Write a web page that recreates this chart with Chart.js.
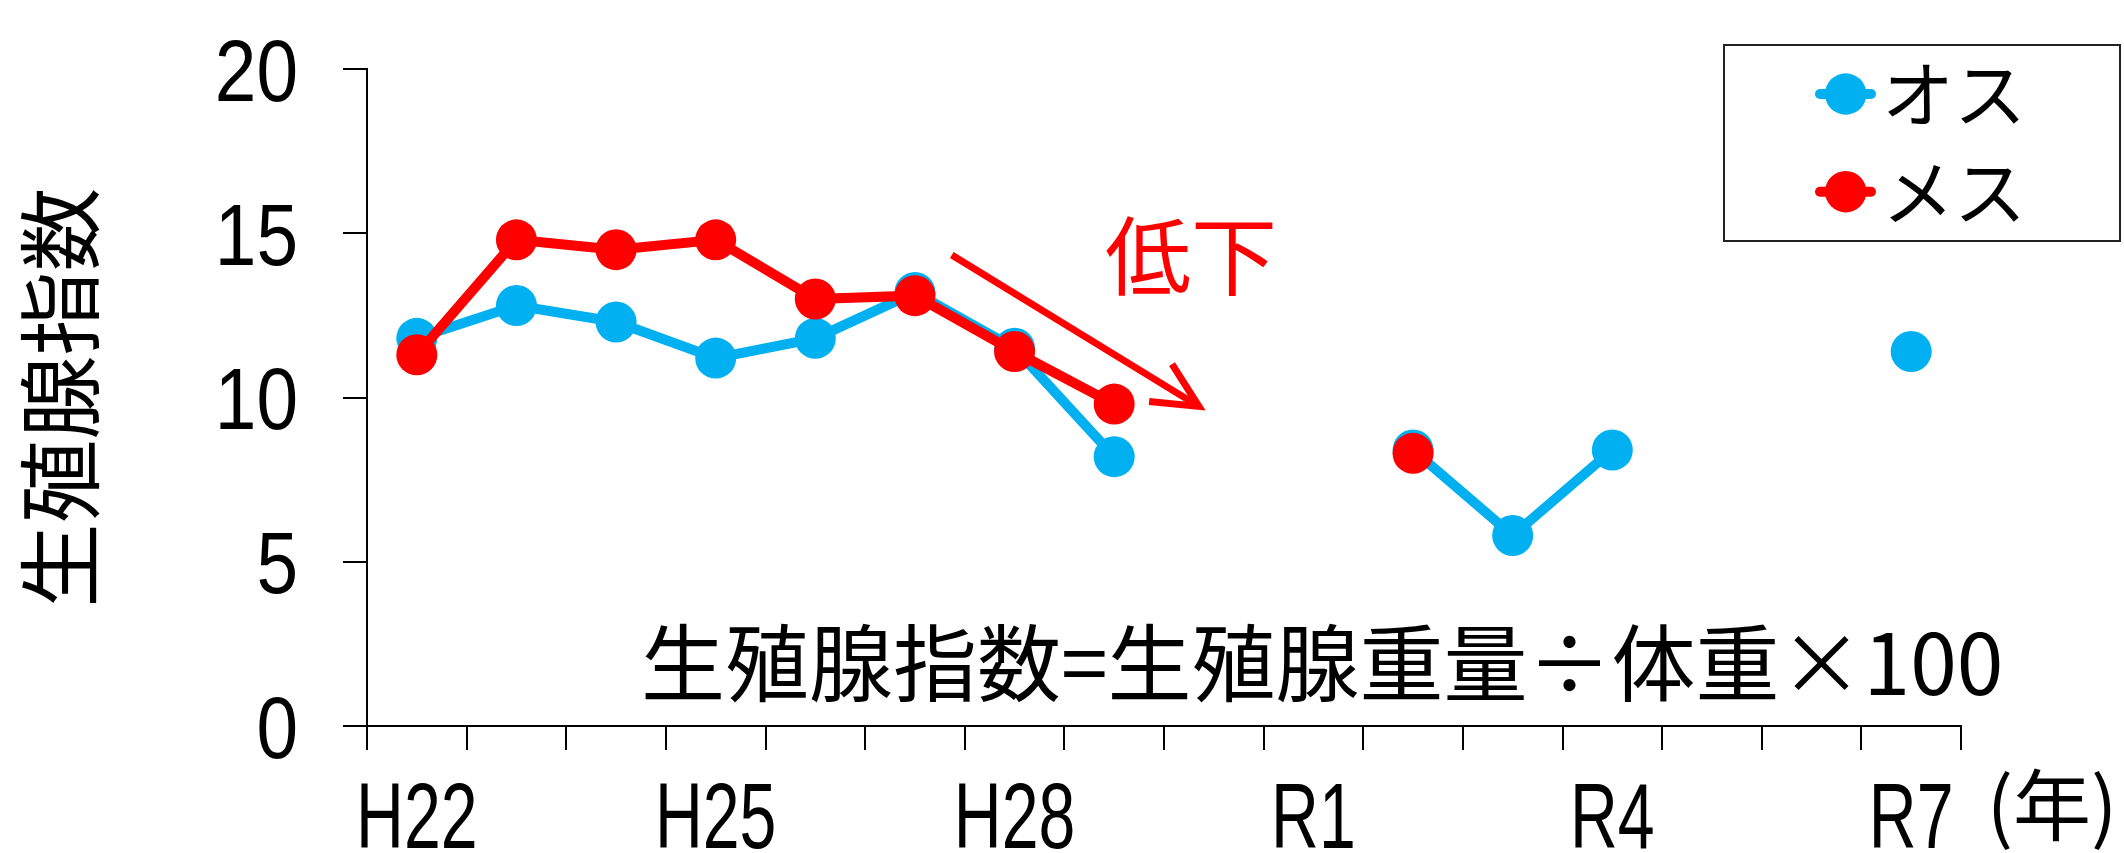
<!DOCTYPE html>
<html>
<head>
<meta charset="utf-8">
<script src="https://cdn.jsdelivr.net/npm/chart.js@4/dist/chart.umd.min.js"></script>
<style>
  html, body { margin: 0; padding: 0; background: #ffffff; }
  #wrap { width: 2124px; height: 853px; }
</style>
</head>
<body>
<div id="wrap"><canvas id="gsi" width="2124" height="853"></canvas></div>
<script>
// Survey years (Heisei 22 .. Reiwa 7)
const years = ['H22','H23','H24','H25','H26','H27','H28','H29','H30','R1','R2','R3','R4','R5','R6','R7'];
// Years that carry a printed label on the horizontal axis
const yearTickLabels = ['H22','H25','H28','R1','R4','R7'];
// Gonadosomatic index, males
const maleIndex = [11.8, 12.8, 12.3, 11.2, 11.8, 13.2, 11.5, 8.2, null, null, 8.4, 5.8, 8.4, null, null, 11.4];
// Gonadosomatic index, females
const femaleIndex = [11.3, 14.8, 14.5, 14.8, 13.0, 13.1, 11.4, 9.8, null, null, 8.3, null, null, null, null, null];
// Value axis ticks
const valueTicks = [0, 5, 10, 15, 20];
const seriesNames = ['オス', 'メス'];
const seriesColors = ['#00B0F0', '#FF0000'];

const LATIN = '"Liberation Sans", Arial, sans-serif';
const CJK = '"Noto Sans CJK JP", "Noto Sans CJK SC", sans-serif';

// Text helper with optional horizontal condensing
function putText(ctx, text, x, y, size, family, opts) {
  const o = Object.assign({ sx: 1, align: 'left', color: '#000' }, opts || {});
  ctx.save();
  ctx.font = size + 'px ' + family;
  ctx.fillStyle = o.color;
  ctx.textBaseline = 'alphabetic';
  ctx.textAlign = o.align;
  ctx.translate(x, y);
  ctx.scale(o.sx, 1);
  ctx.fillText(text, 0, 0);
  ctx.restore();
}

const decorations = {
  id: 'decorations',
  afterDraw(chart) {
    const ctx = chart.ctx;
    const xs = chart.scales.x;
    const ys = chart.scales.y;

    // value axis labels
    ys.ticks.forEach(t => {
      const py = ys.getPixelForValue(t.value);
      putText(ctx, String(t.value), 298, py + 31.5, 88, LATIN, { align: 'right', sx: 0.85 });
    });

    // year labels
    years.forEach((yr, i) => {
      if (!yearTickLabels.includes(yr)) return;
      putText(ctx, yr, xs.getPixelForValue(i), 848, 92, LATIN, { align: 'center', sx: 0.72 });
    });
    putText(ctx, '(年)', 2052, 835, 78, CJK, { align: 'center' });

    // formula note
    putText(ctx, '生殖腺指数=生殖腺重量÷体重×100', 641, 695, 84, CJK);

    // downward trend arrow and note
    const ax0 = xs.getPixelForValue(5.37), ay0 = ys.getPixelForValue(14.34);
    const ax1 = xs.getPixelForValue(7.85), ay1 = ys.getPixelForValue(9.73);
    const ang = Math.atan2(ay0 - ay1, ax0 - ax1);
    const head = 50, spread = 26 * Math.PI / 180;
    ctx.save();
    ctx.strokeStyle = seriesColors[1];
    ctx.lineWidth = 7;
    ctx.lineCap = 'butt';
    ctx.lineJoin = 'miter';
    ctx.beginPath();
    ctx.moveTo(ax0, ay0);
    ctx.lineTo(ax1, ay1);
    ctx.stroke();
    ctx.beginPath();
    ctx.moveTo(ax1 + head * Math.cos(ang + spread), ay1 + head * Math.sin(ang + spread));
    ctx.lineTo(ax1, ay1);
    ctx.lineTo(ax1 + head * Math.cos(ang - spread), ay1 + head * Math.sin(ang - spread));
    ctx.stroke();
    ctx.restore();
    putText(ctx, '低下', 1105, 289, 86, CJK, { color: seriesColors[1] });

    // legend box
    ctx.save();
    ctx.strokeStyle = '#222';
    ctx.lineWidth = 2;
    ctx.strokeRect(1724, 45, 396, 196);
    chart.data.datasets.forEach((ds, i) => {
      const cy = 94 + i * 97.7;
      ctx.strokeStyle = ds.borderColor;
      ctx.lineWidth = 10;
      ctx.lineCap = 'round';
      ctx.beginPath();
      ctx.moveTo(1820, cy);
      ctx.lineTo(1871, cy);
      ctx.stroke();
      ctx.fillStyle = ds.borderColor;
      ctx.beginPath();
      ctx.arc(1845.7, cy, 20.7, 0, Math.PI * 2);
      ctx.fill();
      putText(ctx, ds.label, 1882, cy + 27, 72, CJK);
    });
    ctx.restore();
  }
};

function series(i, values, order) {
  return {
    label: seriesNames[i],
    data: values,
    borderColor: seriesColors[i],
    backgroundColor: seriesColors[i],
    pointBackgroundColor: seriesColors[i],
    pointBorderWidth: 0,
    pointRadius: 20.5,
    pointHoverRadius: 20.5,
    borderWidth: 10,
    tension: 0,
    spanGaps: false,
    clip: false,
    order: order
  };
}

new Chart(document.getElementById('gsi').getContext('2d'), {
  type: 'line',
  data: {
    labels: years,
    datasets: [series(0, maleIndex, 1), series(1, femaleIndex, 0)]
  },
  options: {
    responsive: false,
    animation: false,
    devicePixelRatio: 1,
    events: [],
    layout: { padding: { top: 69, right: 163, left: 0, bottom: 0 } },
    plugins: { legend: { display: false }, tooltip: { enabled: false } },
    scales: {
      x: {
        type: 'category',
        offset: true,
        grid: { offset: true, drawOnChartArea: false, drawTicks: true, tickLength: 24, color: '#000', lineWidth: 2 },
        border: { color: '#000', width: 2 },
        ticks: { display: false },
        afterFit(s) { s.height = 127; }
      },
      y: {
        min: 0,
        max: 20,
        afterBuildTicks(s) { s.ticks = valueTicks.map(v => ({ value: v })); },
        grid: { drawOnChartArea: false, drawTicks: true, tickLength: 24, color: '#000', lineWidth: 2 },
        border: { color: '#000', width: 2 },
        ticks: { display: false },
        title: {
          display: true,
          text: '生殖腺指数',
          color: '#000',
          font: { family: CJK, size: 84 },
          padding: { top: 10, bottom: 0 }
        },
        afterFit(s) { s.width = 367; }
      }
    }
  },
  plugins: [decorations]
});
</script>
</body>
</html>
